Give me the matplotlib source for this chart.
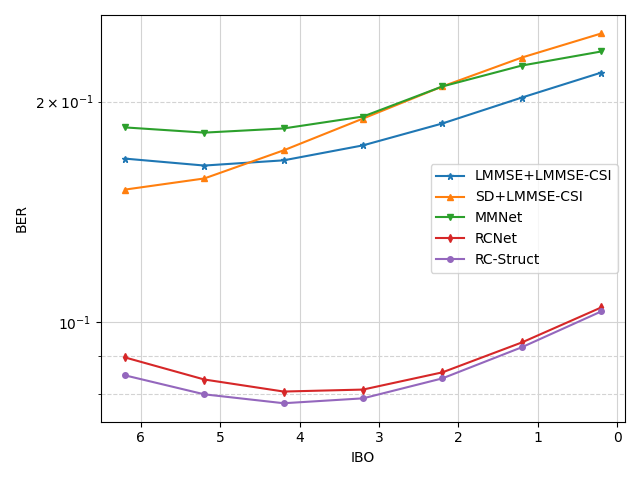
import numpy as np
import matplotlib
matplotlib.use('Agg')
import matplotlib.pyplot as plt

# IBO values (dB)
ibo = [6.2, 5.2, 4.2, 3.2, 2.2, 1.2, 0.2]

# BER per method
ber_lmmse = [0.1672, 0.1636, 0.1663, 0.1743, 0.1867, 0.2025, 0.2190]
ber_sd = [0.1517, 0.1571, 0.1716, 0.1896, 0.2097, 0.2296, 0.2476]
ber_mmnet = [0.1844, 0.1814, 0.1838, 0.1908, 0.2097, 0.2239, 0.2340]
ber_rcnet = [0.0896, 0.0836, 0.0805, 0.0810, 0.0855, 0.0939, 0.1048]
ber_rcstruct = [0.0847, 0.0798, 0.0776, 0.0788, 0.0839, 0.0925, 0.1035]

fig, ax = plt.subplots(figsize=(6.4, 4.8), dpi=100)

ax.plot(ibo, ber_lmmse, '*-', markersize=5, label='LMMSE+LMMSE-CSI')
ax.plot(ibo, ber_sd, '^-', markersize=5, label='SD+LMMSE-CSI')
ax.plot(ibo, ber_mmnet, 'v-', markersize=5, label='MMNet')
ax.plot(ibo, ber_rcnet, 'd-', markersize=4, label='RCNet')
ax.plot(ibo, ber_rcstruct, 'o-', markersize=4, label='RC-Struct')

ax.set_yscale('log')
ax.invert_xaxis()
ax.grid(which='major', color='lightgray', linestyle='-')
ax.grid(which='minor', axis='y', color='lightgray', linestyle='--')

ax.set_xlabel('IBO')
ax.set_ylabel('BER')
ax.legend(loc='center right')

plt.tight_layout()
plt.savefig('out.png', dpi=100)
plt.close()
